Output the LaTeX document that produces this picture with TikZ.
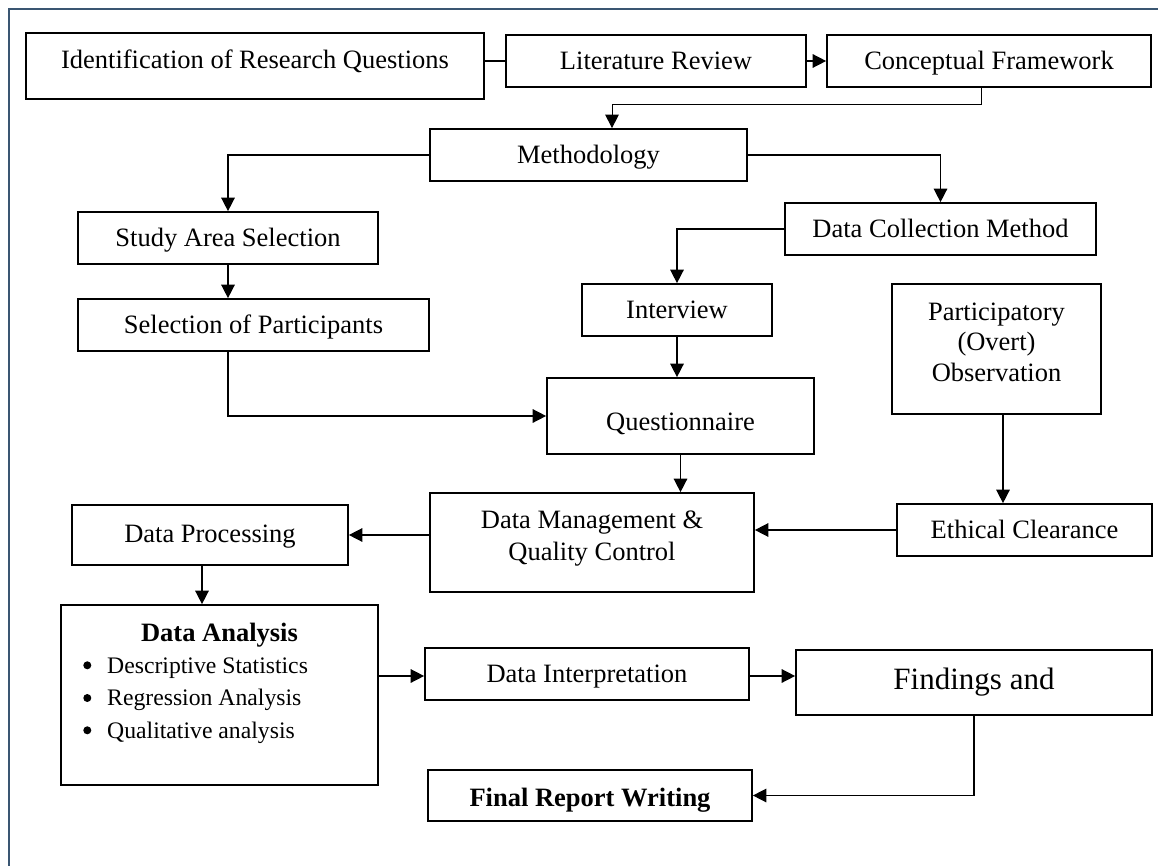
\documentclass[tikz,border=0pt]{standalone}
\usepackage{fontspec}
\setmainfont{Liberation Serif}
\usetikzlibrary{arrows.meta,calc}
\definecolor{frameblue}{HTML}{3A5672}
\begin{document}
\begin{tikzpicture}[x=1pt,y=-1pt,
  box/.style={draw=black, line width=1.7pt, rectangle, inner sep=0pt,
    font=\fontsize{26.5pt}{31.8pt}\selectfont, text height=17.5pt, text depth=0pt, align=center},
  arr/.style={line width=1.5pt, -{Triangle[length=13.5pt,width=13.5pt]}},
  ln/.style={line width=1.5pt},
  lbl/.style={inner sep=0pt, anchor=base, font=\fontsize{26.5pt}{31.8pt}\selectfont},
  bul/.style={inner sep=0pt, anchor=base west, font=\fontsize{23.7pt}{28pt}\selectfont},
  dot/.style={fill=black}
]
\useasboundingbox (0,0) rectangle (1158,866);
\fill[white] (0,0) rectangle (1158,866);
\draw[frameblue, line width=1.8pt] (9.3,870) -- (9.3,9.3) -- (1165,9.3);

% boxes
\node[box, minimum width=458, minimum height=66, text depth=11.5pt] (idq) at (255,66) {Identification of Research Questions};
\node[box, minimum width=300, minimum height=52] (lit) at (656,61) {Literature Review};
\node[box, minimum width=324, minimum height=52] (cf) at (989,61) {Conceptual Framework};
\node[box, minimum width=317, minimum height=52] (meth) at (588.5,155) {Methodology};
\node[box, minimum width=311, minimum height=52] (dcm) at (940.5,229) {Data Collection Method};
\node[box, minimum width=300, minimum height=52] (sas) at (228,238) {Study Area Selection};
\node[box, minimum width=351, minimum height=52] (sop) at (253.5,325) {Selection of Participants};
\node[box, minimum width=190, minimum height=52] (int) at (677,310) {Interview};
\node[box, minimum width=209, minimum height=130] (po) at (996.5,349) {};
\node[box, minimum width=267, minimum height=76, text height=28pt] (q) at (680.5,416) {Questionnaire};
\node[box, minimum width=324, minimum height=99] (dmqc) at (592,542.5) {};
\node[box, minimum width=255, minimum height=52] (ec) at (1024.5,530) {Ethical Clearance};
\node[box, minimum width=276, minimum height=60, text depth=3.5pt] (dp) at (210,535) {Data Processing};
\node[box, minimum width=317, minimum height=180] (da) at (219.5,695) {};
\node[box, minimum width=324, minimum height=52] (di) at (587,674) {Data Interpretation};
\node[box, minimum width=356, minimum height=65, font=\fontsize{31pt}{37pt}\selectfont, text height=20.5pt, text depth=6.1pt] (fa) at (974,682.5) {Findings and};
\node[box, minimum width=324, minimum height=51, text height=21.6pt, font={\fontsize{26.5pt}{31.8pt}\selectfont\bfseries}] (frw) at (590,795.5) {Final Report Writing};

% texts of multi-line boxes
\node[lbl] (poA) at (996.5,320) {Participatory};
\node[lbl] (poB) at (996.5,350.5) {(Overt)};
\node[lbl] (poC) at (996.5,381) {Observation};
\node[lbl] (dmA) at (592,528) {Data Management \&};
\node[lbl] (dmB) at (592,560.3) {Quality Control};
\node[lbl, font={\fontsize{26.5pt}{31.8pt}\selectfont\bfseries}] (daT) at (219.5,641.3) {Data Analysis};
\fill[dot] (87.3,665.3) circle (4);
\fill[dot] (87.3,698) circle (4);
\fill[dot] (87.3,730.3) circle (4);
\node[bul] (daA) at (107,673) {Descriptive Statistics};
\node[bul] (daB) at (107,705.7) {Regression Analysis};
\node[bul] (daC) at (107,738) {Qualitative analysis};

% connectors
\draw[ln] (idq.east |- lit.west) -- (lit.west);
\draw[arr] (lit.east) -- (cf.west);
\draw[arr, line width=0.9pt] ($(cf.south)+(-8,0)$) -- ++(0,17) -| ($(meth.north)+(23.5,0)$);
\draw[arr] (meth.west) -| (sas.north);
\draw[arr] (meth.east) -| (dcm.north);
\draw[arr] (dcm.west) -| (int.north);
\draw[arr] (sas.south) -- (sop.north -| sas.south);
\draw[arr] ($(sop.south)+(-25.5,0)$) |- (q.west);
\draw[arr] (int.south) -- (q.north -| int.south);
\draw[arr] (q.south) -- (dmqc.north -| q.south);
\coordinate (pos) at ($(po.south)+(6.5,0)$);
\draw[arr] (pos) -- (pos |- ec.north);
\draw[arr] (ec.west) -- (ec.west -| dmqc.east);
\draw[arr] (dp.east -| dmqc.west) -- (dp.east);
\coordinate (dps) at ($(dp.south)+(-8,0)$);
\draw[arr] (dps) -- (dps |- da.north);
\coordinate (dai) at ($(di.west)+(0,2)$);
\draw[arr] (dai -| da.east) -- (dai);
\coordinate (dfo) at ($(di.east)+(0,2)$);
\draw[arr] (dfo) -- (dfo -| fa.west);
\draw[arr] (fa.south) |- (frw.east);
\end{tikzpicture}
\end{document}
